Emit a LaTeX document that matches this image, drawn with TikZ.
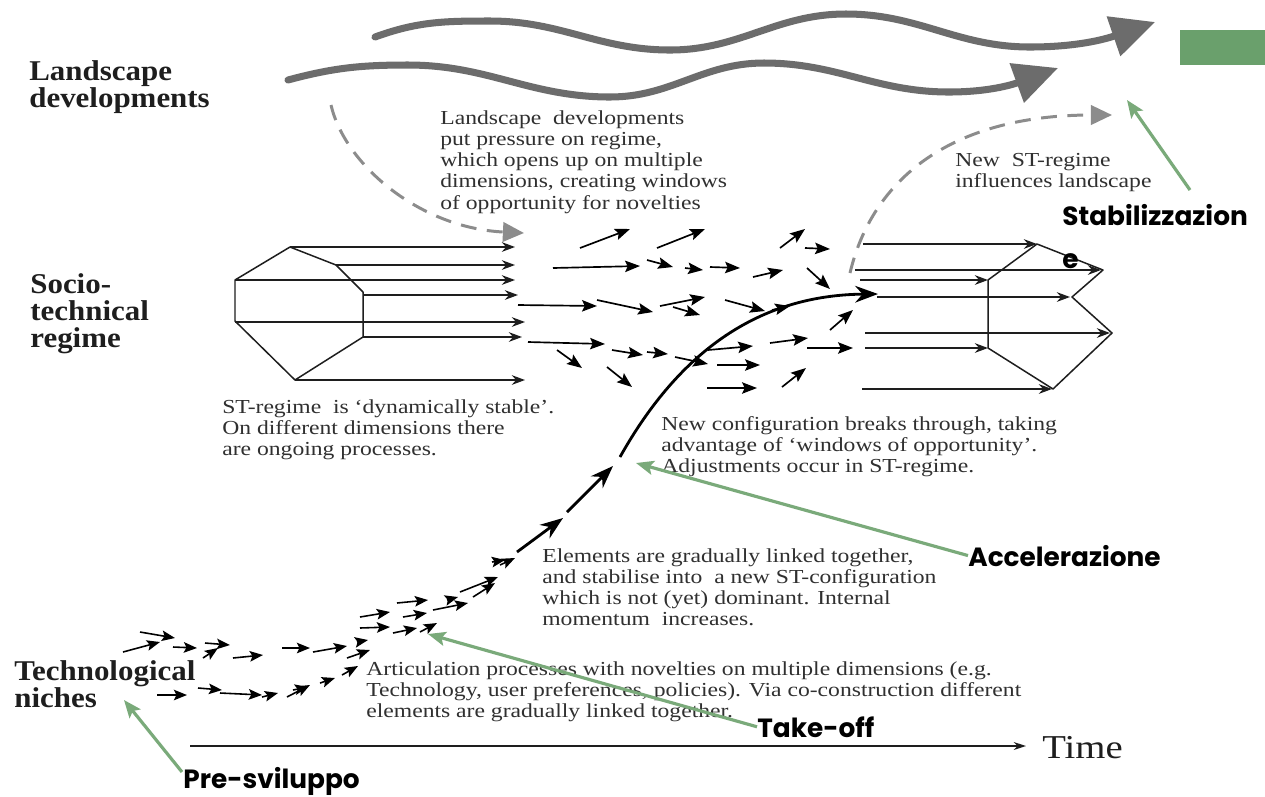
\documentclass[tikz,border=0pt]{standalone}
\usepackage{fontspec}
\setmainfont{Liberation Serif}
\newfontfamily\scanfont[FakeStretch=1.19]{Liberation Serif}
\newfontfamily\levelfont[FakeStretch=1.08]{Liberation Serif}
\newfontfamily\timefont[FakeStretch=1.16]{Liberation Serif}
\newfontfamily\tagfont{Poppins}
\usetikzlibrary{arrows.meta}

\definecolor{wave}{RGB}{108,108,108}
\definecolor{dashgray}{RGB}{140,140,140}
\definecolor{ink}{RGB}{30,30,30}
\definecolor{bodyink}{RGB}{48,48,48}
\definecolor{phase}{RGB}{122,170,122}
\definecolor{tabgreen}{RGB}{106,160,108}

\begin{document}
\begin{tikzpicture}[x=0.02cm,y=-0.02cm,
  body/.style={anchor=north west,inner sep=0pt,align=left,text=bodyink,
    font=\scanfont\fontsize{11.3}{12.1}\selectfont},
  level/.style={anchor=north west,inner sep=0pt,align=left,text=ink,
    font=\levelfont\bfseries\fontsize{16.3}{15.5}\selectfont},
  phaselabel/.style={anchor=base west,inner sep=0pt,text=black,
    font=\tagfont\bfseries\fontsize{15}{24}\selectfont},
  wavearrow/.style={draw=wave,line width=4pt,line cap=round,
    -{Triangle[length=25pt,width=23pt]}},
  influence/.style={draw=dashgray,line width=1.7pt,dash pattern=on 9pt off 6pt,
    -{Triangle[length=12pt,width=11pt]}},
  phasearrow/.style={draw=phase,line width=1.8pt,
    -{Stealth[length=10pt,width=8pt,inset=2pt]}},
  regime/.style={draw=ink,line width=0.85pt,line join=round},
  regarrow/.style={draw=ink,line width=0.9pt,-{Stealth[length=7.5pt,width=5.5pt]}},
  flow/.style={draw=black,line width=0.95pt,-{Stealth[length=8.5pt,width=6.5pt,inset=1.5pt]}},
  nichearrow/.style={draw=black,line width=0.9pt,-{Stealth[length=7.5pt,width=6pt,inset=1.5pt]}},
  thrust/.style={draw=black,line width=1.6pt,-{Stealth[length=13pt,width=9.5pt]}},
  axisline/.style={draw=ink,line width=0.8pt,-{Stealth[length=7pt,width=4.5pt]}}
]
\useasboundingbox (0,0) rectangle (1265,796);
\fill[white] (0,0) rectangle (1265,796);

% ---------- landscape level ----------
\fill[tabgreen] (1180,30) rectangle (1265,65);
\draw[wavearrow] (375,37) to[out=20,in=180] (490,21) to[out=0,in=180] (670,50)
  to[out=0,in=180] (846,14) to[out=0,in=180] (1030,47) to[out=0,in=199] (1155,22);
\draw[wavearrow] (288,80) to[out=15,in=180] (408,65) to[out=0,in=180] (610,97)
  to[out=0,in=180] (764,63) to[out=0,in=180] (949,92) to[out=0,in=200] (1058,68);

\node[level] (land) at (29,60) {Landscape\\developments};
\node[body] (press) at (440,110) {Landscape~~developments\\put pressure on regime,\\which opens up on multiple\\dimensions, creating windows\\of opportunity for novelties};
\node[body] (newst) at (955,153) {New~~ST-regime\\influences landscape};

% landscape pressure and feedback
\coordinate (pressTail) at (331,105);
\coordinate (pressTip) at (524,233);
\draw[influence] (pressTail) .. controls (345,165) and (420,228) .. (pressTip);
\coordinate (feedTail) at (850,273);
\coordinate (feedTip) at (1112,115);
\draw[influence] (feedTail) .. controls (872,180) and (950,115) .. (feedTip);

% ---------- socio-technical regime ----------
\node[level] (regime) at (30,273) {Socio-\\technical\\regime};
\draw[regime] (235,280) -- (290,247) -- (336,265) -- (363,292) -- (363,337)
  -- (295,380) -- (235,321) -- cycle;
\foreach \xa/\ya/\xb in {290/247/515, 336/265/515, 235/280/515, 363/295/518,
  235/322/525, 363/337/522, 295/380/525}
  \draw[regarrow] (\xa,\ya) -- (\xb,\ya);

\draw[regime] (988,280) -- (1037,244) -- (1103,270) -- (1072,297) -- (1112,333)
  -- (1053,389) -- (988,348) -- cycle;
\foreach \xa/\ya/\xb in {863/244/1037, 855/270/1101, 860/280/988, 877/297/1070,
  865/333/1110, 865/348/988, 862/389/1052}
  \draw[regarrow] (\xa,\ya) -- (\xb,\ya);

% regime opening up: scattered dimensions
\foreach \xa/\ya/\xb/\yb in {580/248/630/229, 657/248/705/229, 553/268/640/266,
  647/260/673/267, 685/268/703/270, 710/267/740/268, 753/277/783/270,
  780/248/805/229, 805/248/830/249, 807/268/830/289, 518/305/597/306,
  597/300/653/312, 660/306/705/297, 673/307/700/315, 725/300/765/311,
  528/342/605/344, 557/350/582/368, 612/350/643/355, 647/352/668/354,
  675/357/708/364, 607/367/632/387, 708/350/753/346, 717/365/760/365,
  707/388/757/388, 770/343/808/338, 782/387/806/368, 807/348/853/348,
  830/330/853/310, 772/310/790/306}
  \draw[flow] (\xa,\ya) -- (\xb,\yb);

\node[body] (stable) at (222,399) {ST-regime~~is ‘dynamically stable’.\\On different dimensions there\\are ongoing processes.};
\node[body] (breaks) at (661,416) {New configuration breaks through, taking\\advantage of ‘windows of opportunity’.\\Adjustments occur in ST-regime.};

% ---------- breakthrough trajectory ----------
\draw[thrust] (620,457) .. controls (680,350) and (760,295) .. (878,294);
\draw[thrust] (567,512) -- (613,466);
\draw[thrust] (517,552) -- (563,518);

% ---------- technological niches ----------
\node[level] (niche) at (14,660) {Technological\\niches};
\foreach \xa/\ya/\xb/\yb in {140/632/175/638, 123/652/160/642, 173/647/197/648,
  205/643/230/645, 203/658/218/648, 233/658/263/655, 282/648/310/648,
  313/652/347/646, 347/658/370/650, 357/642/368/640, 360/617/390/612,
  360/628/390/627, 397/603/428/600, 403/617/427/613, 393/633/417/628,
  420/632/437/623, 433/610/468/603, 447/600/458/597, 460/592/498/577,
  473/597/495/583, 492/562/505/560, 500/565/515/558,
  157/695/187/695, 198/688/222/690, 220/693/262/695, 262/697/278/693,
  287/697/310/685, 293/690/308/687, 320/683/335/678, 342/675/358/666}
  \draw[nichearrow] (\xa,\ya) -- (\xb,\yb);

\node[body] (linked) at (542,548) {Elements are gradually linked together,\\and stabilise into~~a new ST-configuration\\which is not (yet) dominant. Internal\\momentum~~increases.};
\node[body] (artic) at (366,661) {Articulation processes with novelties on multiple dimensions (e.g.\\Technology, user preferences, policies). Via co-construction different\\elements are gradually linked together.};

% ---------- time axis ----------
\node[anchor=base west,inner sep=0pt,text=ink,font=\timefont\fontsize{19}{22}\selectfont] (time) at (1042,758) {Time};
\coordinate (axisStart) at (190,746);
\coordinate (axisEnd) at (1026,746);
\draw[axisline] (axisStart) -- (axisEnd);

% ---------- phases ----------
\node[anchor=north west,inner sep=0pt,align=left,
  font=\tagfont\bfseries\fontsize{15}{24.4}\selectfont] (stab) at (1062,204) {Stabilizzazion\\e};
\node[phaselabel] (acc) at (968,566) {Accelerazione};
\node[phaselabel] (take) at (757,737) {Take-off};
\node[phaselabel] (pre) at (183,788) {Pre-sviluppo};

\coordinate (stabTail) at (1190,190);
\coordinate (stabTip) at (1127,100);
\coordinate (accTip) at (636,463);
\coordinate (takeTip) at (428,634);
\coordinate (preTail) at (182,772);
\coordinate (preTip) at (124,700);
\draw[phasearrow] (stabTail) -- (stabTip);
\draw[phasearrow] (acc.west) -- (accTip);
\draw[phasearrow] (take.west) -- (takeTip);
\draw[phasearrow] (preTail) -- (preTip);
\end{tikzpicture}
\end{document}
